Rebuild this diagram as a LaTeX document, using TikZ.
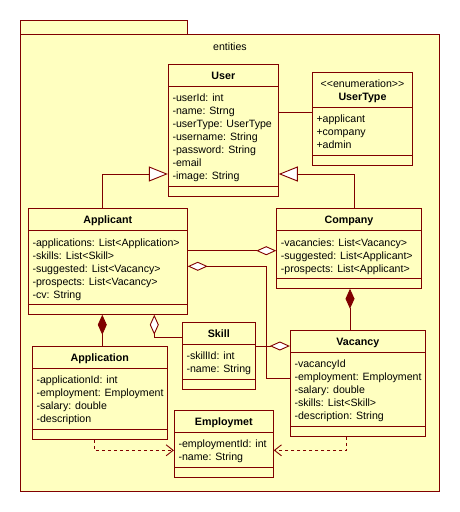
\documentclass[tikz,border=0pt]{standalone}
\usepackage{fontspec}
\setmainfont{Liberation Sans}
\usetikzlibrary{arrows.meta,fit,calc}
\definecolor{lnc}{HTML}{800000}
\definecolor{fillc}{HTML}{FFFFC0}
\newcommand\umlclass[8]{%
  \coordinate (#1-nw) at (#2,#3);
  \coordinate (#1-se) at (#4,#5);
  \node[cls, fit=(#1-nw)(#1-se)] (#1) {};
  \coordinate (#1-h) at (#2,#6);
  \coordinate (#1-s) at (#2,#7);
  \draw[ln] (#1-h) -- (#1-h -| #1.east);
  \draw[ln] (#1-s) -- (#1-s -| #1.east);
  \node[ttl] (#1-title) at ({(#2+#4)/2},{(#3+#6)/2+4}) {#8};
}
\newcommand\umlattrs[4]{%
  \foreach \t [count=\i] in {#4} \node[attr] (#1-\i) at (#2+4,{#3+13*(\i-1)}) {\t};
}
\begin{document}
\begin{tikzpicture}[x=1pt,y=-1pt,
  cls/.style={draw=lnc, line width=0.9pt, fill=fillc, inner sep=0pt},
  ln/.style={draw=lnc, line width=0.9pt},
  ttl/.style={anchor=base, inner sep=0pt, font=\fontsize{10.7}{13}\selectfont\bfseries},
  attr/.style={anchor=base west, inner sep=0pt, font=\fontsize{10.6}{13}\selectfont},
  gen/.style={ln, -{Triangle[length=19pt,width=15pt,fill=white]}},
  agg/.style={ln, {Diamond[length=20pt,width=9pt,fill=white]}-},
  comp/.style={ln, {Diamond[length=20pt,width=9pt,fill=lnc]}-},
  dep/.style={ln, dash pattern=on 3pt off 3pt, -{Straight Barb[length=7pt,width=11pt]}}
]
\useasboundingbox (0,0) rectangle (460,512);
% package
\coordinate (tab-nw) at (20.3,20.3);
\coordinate (tab-se) at (187.3,34.3);
\node[cls, fit=(tab-nw)(tab-se)] (tab) {};
\coordinate (pkg-nw) at (20.3,34.3);
\coordinate (pkg-se) at (439.3,491.3);
\node[cls, fit=(pkg-nw)(pkg-se)] (pkg) {};
\node[attr, anchor=base] (pkgname) at (230,50) {entities};

% classes
\umlclass{user}{168.3}{64.3}{278.3}{196.3}{86.3}{186.3}{User}
\umlattrs{user}{168.3}{101}{-userId: int,-name: Strng,-userType: UserType,-username: String,-password: String,-email,-image: String}

\coordinate (ut-nw) at (312.3,72.3);
\coordinate (ut-se) at (412.7,165.3);
\node[cls, fit=(ut-nw)(ut-se)] (usertype) {};
\coordinate (ut-h) at (312.3,107.7);
\coordinate (ut-s) at (312.3,155.3);
\draw[ln] (ut-h) -- (ut-h -| usertype.east);
\draw[ln] (ut-s) -- (ut-s -| usertype.east);
\node[attr, anchor=base] (ut-st) at (362.5,87) {{<}{<}enumeration{>}{>}};
\node[ttl] (ut-title) at (362.5,100) {UserType};
\umlattrs{ut}{312.3}{122}{+applicant,+company,+admin}

\umlclass{applicant}{28.3}{208.3}{187.3}{314.3}{230.7}{304.3}{Applicant}
\umlattrs{applicant}{28.3}{246}{-applications: List<Application>,-skills: List<Skill>,-suggested: List<Vacancy>,-prospects: List<Vacancy>,-cv: String}

\umlclass{company}{276.7}{208.3}{421.3}{288.3}{230.7}{278.3}{Company}
\umlattrs{company}{276.7}{246}{-vacancies: List<Vacancy>,-suggested: List<Applicant>,-prospects: List<Applicant>}

\umlclass{skill}{182.3}{322.3}{255.3}{389.3}{344.3}{379.3}{Skill}
\umlattrs{skill}{182.3}{359}{-skillId: int,-name: String}

\umlclass{vacancy}{290.3}{330.3}{425.3}{436.3}{352.3}{426.3}{Vacancy}
\umlattrs{vacancy}{290.3}{367}{-vacancyId,-employment: Employment,-salary: double,-skills: List<Skill>,-description: String}

\umlclass{application}{32.3}{346.3}{167.3}{439.3}{368.3}{429.3}{Application}
\umlattrs{application}{32.3}{383}{-applicationId: int,-employment: Employment,-salary: double,-description}

\umlclass{employmet}{174.3}{410.3}{273.3}{477.3}{432.3}{467.3}{Employmet}
\umlattrs{employmet}{174.3}{447}{-employmentId: int,-name: String}

% connectors
\coordinate (g1) at (102.3,174);
\coordinate (g2) at (354.3,174);
\coordinate (a1) at (0,112.3);
\draw[ln] (user.east |- a1) -- (usertype.west |- a1);
\draw[gen] (applicant.north -| g1) -- (g1) -- (user.west |- g1);
\draw[gen] (company.north -| g2) -- (g2) -- (user.east |- g2);

\coordinate (r1) at (0,250.7);
\draw[agg] (company.west |- r1) -- (applicant.east |- r1);
\coordinate (r2) at (266.3,266.3);
\coordinate (r3) at (266.3,378.3);
\draw[agg] (applicant.east |- r2) -- (r2) -- (r3) -- (vacancy.west |- r3);

\coordinate (c1) at (350,0);
\draw[comp] (company.south -| c1) -- (vacancy.north -| c1);
\coordinate (c2) at (102.3,0);
\draw[comp] (applicant.south -| c2) -- (application.north -| c2);
\coordinate (s1) at (154.3,337.5);
\draw[agg] (applicant.south -| s1) -- (s1) -- (skill.west |- s1);
\coordinate (s2) at (0,346);
\draw[agg] (vacancy.west |- s2) -- (skill.east |- s2);

\coordinate (d1) at (94.3,450.3);
\draw[dep] (application.south -| d1) -- (d1) -- (employmet.west |- d1);
\coordinate (d2) at (346.7,450.3);
\draw[dep] (vacancy.south -| d2) -- (d2) -- (employmet.east |- d2);
\end{tikzpicture}
\end{document}
